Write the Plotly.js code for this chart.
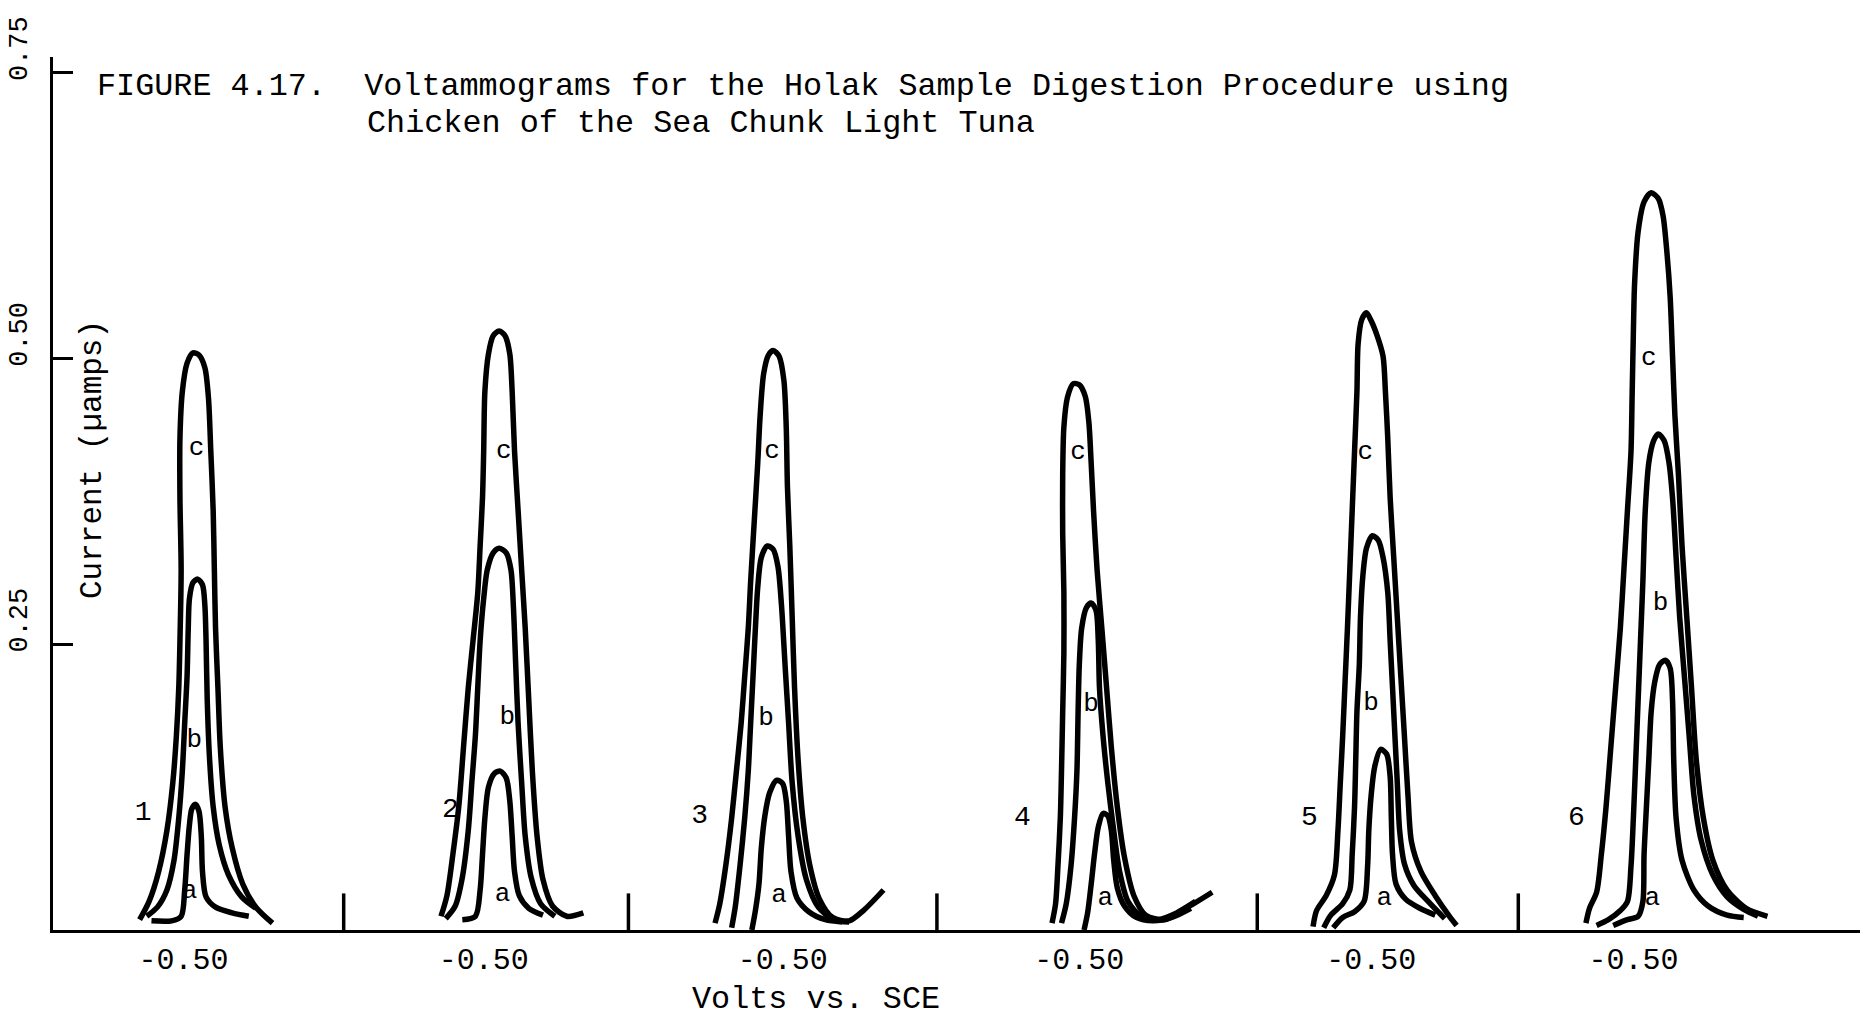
<!DOCTYPE html>
<html>
<head>
<meta charset="utf-8">
<script src="https://cdn.plot.ly/plotly-3.0.1.min.js"></script>
<style>html,body{margin:0;padding:0;background:#fff;}#chart{width:1860px;height:1017px;}</style>
</head>
<body>
<div id="chart"></div>
<script>
// ---- data ----
// horizontal position of each voltammogram (position of its -0.50 V mark)
const groupCenters = [110, 363, 615, 865, 1111, 1332];
const groupNames = ["1", "2", "3", "4", "5", "6"];
const xTickLabels = ["-0.50", "-0.50", "-0.50", "-0.50", "-0.50", "-0.50"];
const separatorPositions = [245, 485, 745, 1015, 1235];
const separatorHeight = 0.032;
const yTickValues = [0.25, 0.50, 0.75];
const yTickLabels = ["0.25", "0.50", "0.75"];

// curves: offset from the group's -0.50 V mark, current (uA)
const g1c_dx = [-37,-29,-21,-14,-9,-6,-4,-3,-2,-3,-3,-1,3,8,13,18,21,23,25,26,27,29,31,35,41,50,61,75];
const g1c_i = [0.009,0.025,0.051,0.087,0.129,0.170,0.212,0.253,0.315,0.378,0.430,0.471,0.496,0.505,0.503,0.492,0.466,0.419,0.367,0.315,0.264,0.212,0.160,0.108,0.072,0.040,0.020,0.006];
const g1b_dx = [-31,-22,-14,-8,-4,-1,1,3,4,5,8,12,16,18,19,20,22,25,30,38,49,61];
const g1b_i = [0.012,0.020,0.035,0.061,0.098,0.139,0.181,0.222,0.264,0.290,0.304,0.307,0.302,0.284,0.253,0.201,0.149,0.108,0.075,0.048,0.029,0.019];
const g1a_dx = [-27,-10,-2,1,3,5,7,10,13,15,16,19,27,41,55];
const g1a_i = [0.008,0.008,0.012,0.035,0.066,0.092,0.106,0.110,0.104,0.082,0.051,0.029,0.020,0.015,0.012];

const g2c_dx = [-36,-31,-26,-21,-17,-13,-9,-5,-3,-1,0,1,4,8,13,18,22,24,26,29,32,35,38,41,45,50,58,70,84];
const g2c_i = [0.012,0.030,0.066,0.108,0.160,0.212,0.253,0.295,0.336,0.378,0.419,0.471,0.504,0.520,0.524,0.520,0.504,0.471,0.419,0.367,0.315,0.264,0.201,0.139,0.082,0.044,0.021,0.012,0.015];
const g2b_dx = [-32,-24,-18,-13,-10,-7,-5,-3,0,3,8,13,19,23,25,27,29,32,35,40,48,60];
const g2b_i = [0.010,0.021,0.046,0.087,0.129,0.170,0.212,0.253,0.290,0.315,0.330,0.334,0.330,0.315,0.284,0.232,0.181,0.129,0.082,0.046,0.023,0.012];
const g2a_dx = [-18,-7,-3,-1,1,4,9,14,19,22,24,26,30,38,50];
const g2a_i = [0.009,0.012,0.035,0.066,0.098,0.125,0.137,0.139,0.133,0.113,0.082,0.051,0.030,0.019,0.013];

const g3c_dx = [-57,-53,-48,-43,-39,-35,-32,-29,-27,-24,-21,-19,-16,-12,-8,-3,1,3,4,6,8,10,13,17,23,31,42,56,68,85];
const g3c_i = [0.006,0.023,0.056,0.098,0.139,0.181,0.222,0.264,0.305,0.357,0.409,0.450,0.487,0.503,0.507,0.502,0.481,0.440,0.388,0.336,0.274,0.212,0.149,0.098,0.056,0.027,0.011,0.008,0.017,0.035];
const g3b_dx = [-43,-40,-36,-32,-29,-27,-25,-23,-21,-18,-13,-8,-4,-1,2,5,8,13,20,30,43,56];
const g3b_i = [0.002,0.020,0.056,0.098,0.139,0.181,0.222,0.264,0.300,0.326,0.336,0.333,0.318,0.284,0.232,0.181,0.129,0.082,0.044,0.020,0.009,0.007];
const g3a_dx = [-26,-23,-20,-18,-15,-11,-5,0,3,5,7,12,22,36,50];
const g3a_i = [0.000,0.017,0.040,0.072,0.100,0.120,0.131,0.128,0.113,0.082,0.051,0.028,0.016,0.009,0.007];

const g4c_dx = [-23,-20,-18,-16,-15,-14,-13,-13,-14,-14,-13,-10,-5,0,5,8,10,12,15,19,23,27,32,38,46,56,72,90,112];
const g4c_i = [0.006,0.023,0.056,0.098,0.139,0.191,0.243,0.295,0.347,0.398,0.440,0.466,0.478,0.477,0.467,0.445,0.409,0.367,0.315,0.264,0.212,0.160,0.108,0.064,0.030,0.013,0.009,0.019,0.033];
const g4b_dx = [-15,-11,-7,-4,-2,-1,0,2,6,10,14,16,17,20,24,29,34,41,52,66,82,98];
const g4b_i = [0.006,0.023,0.056,0.098,0.139,0.191,0.232,0.264,0.282,0.286,0.280,0.253,0.212,0.170,0.129,0.087,0.051,0.025,0.012,0.009,0.015,0.025];
const g4a_dx = [4,7,10,13,16,20,24,27,29,32,38,48,62,78,94];
const g4a_i = [0.000,0.015,0.040,0.068,0.090,0.102,0.100,0.087,0.061,0.037,0.021,0.011,0.008,0.011,0.019];

const g5c_dx = [-49,-46,-38,-31,-28,-26,-24,-22,-20,-18,-16,-14,-12,-11,-8,-4,0,5,10,12,14,16,19,22,25,28,31,34,42,54,66,72];
const g5c_i = [0.003,0.017,0.030,0.048,0.087,0.129,0.170,0.217,0.264,0.315,0.367,0.419,0.471,0.513,0.534,0.540,0.533,0.520,0.502,0.471,0.430,0.378,0.326,0.274,0.222,0.170,0.118,0.077,0.051,0.030,0.012,0.004];
const g5b_dx = [-40,-34,-24,-18,-16,-14,-13,-12,-10,-9,-7,-4,1,6,10,14,16,18,20,22,24,28,36,48,62];
const g5b_i = [0.002,0.013,0.023,0.035,0.066,0.108,0.149,0.191,0.232,0.274,0.310,0.334,0.345,0.341,0.326,0.295,0.253,0.212,0.170,0.129,0.087,0.058,0.039,0.025,0.010];
const g5a_dx = [-32,-24,-14,-6,-3,-2,0,3,8,13,16,17,18,21,29,41,54];
const g5a_i = [0.002,0.011,0.016,0.025,0.056,0.087,0.118,0.143,0.158,0.154,0.134,0.098,0.066,0.040,0.027,0.019,0.013];

const g6c_dx = [-40,-37,-31,-27,-23,-19,-15,-11,-8,-5,-2,-1,0,1,4,9,15,21,25,28,31,33,35,38,41,45,49,53,59,67,79,95,113];
const g6c_i = [0.006,0.019,0.033,0.066,0.108,0.160,0.212,0.264,0.315,0.367,0.419,0.471,0.523,0.565,0.611,0.637,0.645,0.640,0.625,0.596,0.554,0.502,0.450,0.398,0.336,0.274,0.212,0.149,0.098,0.061,0.035,0.019,0.012];
const g6b_dx = [-31,-21,-11,-5,-2,0,2,4,6,8,10,13,17,21,26,30,33,36,39,43,47,51,57,67,79,93,105];
const g6b_i = [0.004,0.009,0.017,0.025,0.056,0.098,0.149,0.201,0.253,0.305,0.367,0.409,0.428,0.434,0.428,0.409,0.378,0.326,0.274,0.222,0.170,0.118,0.079,0.048,0.029,0.018,0.012];
const g6a_dx = [-17,-5,4,8,9,11,13,15,18,22,27,31,33,34,36,41,51,63,79,93];
const g6a_i = [0.004,0.009,0.012,0.025,0.066,0.108,0.149,0.191,0.217,0.232,0.236,0.229,0.201,0.149,0.098,0.061,0.035,0.021,0.013,0.011];

// curve letter labels (offset, current) per group
const curveLetters = ["c", "b", "a"];
const letter_dx = [[11,9,5],[17,20,16],[-9,-14,-3],[-1,10,22],[-5,0,11],[13,23,16]];
const letter_i = [[0.421,0.166,0.034],[0.419,0.186,0.031],[0.419,0.185,0.030],[0.418,0.197,0.028],[0.418,0.198,0.028],[0.500,0.286,0.028]];
// group number labels
const number_dx = [-34, -28, -70, -48, -52, -48];
const number_i = [0.102, 0.105, 0.100, 0.098, 0.098, 0.098];

// ---- build traces ----
const curves = [
  [[g1c_dx,g1c_i],[g1b_dx,g1b_i],[g1a_dx,g1a_i]],
  [[g2c_dx,g2c_i],[g2b_dx,g2b_i],[g2a_dx,g2a_i]],
  [[g3c_dx,g3c_i],[g3b_dx,g3b_i],[g3a_dx,g3a_i]],
  [[g4c_dx,g4c_i],[g4b_dx,g4b_i],[g4a_dx,g4a_i]],
  [[g5c_dx,g5c_i],[g5b_dx,g5b_i],[g5a_dx,g5a_i]],
  [[g6c_dx,g6c_i],[g6b_dx,g6b_i],[g6a_dx,g6a_i]]
];
const FONT = "Liberation Mono, Courier New, monospace";
const traces = [];
curves.forEach((grp, g) => {
  grp.forEach((cv, k) => {
    traces.push({
      type: "scatter", mode: "lines",
      x: cv[0].map(d => groupCenters[g] + d), y: cv[1],
      line: {color: "#000", width: 5.5, shape: "spline", smoothing: 0.8},
      hoverinfo: "skip", name: "Run " + groupNames[g] + " " + curveLetters[k]
    });
  });
});
// separators between runs
const sepX = [], sepY = [];
separatorPositions.forEach(p => { sepX.push(p, p, null); sepY.push(0, separatorHeight, null); });
traces.push({type: "scatter", mode: "lines", x: sepX, y: sepY,
  line: {color: "#000", width: 3.5}, hoverinfo: "skip", cliponaxis: false});
// letters
const lx = [], ly = [], lt = [];
letter_dx.forEach((arr, g) => arr.forEach((d, k) => {
  lx.push(groupCenters[g] + d); ly.push(letter_i[g][k]); lt.push(curveLetters[k]);
}));
traces.push({type: "scatter", mode: "text", x: lx, y: ly, text: lt,
  textfont: {family: FONT, size: 26, color: "#000"}, hoverinfo: "skip"});
// run numbers
traces.push({type: "scatter", mode: "text",
  x: number_dx.map((d, g) => groupCenters[g] + d), y: number_i, text: groupNames,
  textfont: {family: FONT, size: 28, color: "#000"}, hoverinfo: "skip"});

const layout = {
  width: 1860, height: 1017,
  margin: {l: 53, r: 0, t: 57, b: 87},
  paper_bgcolor: "#fff", plot_bgcolor: "#fff",
  showlegend: false,
  font: {family: FONT, color: "#000"},
  title: {
    text: "FIGURE 4.17.\u00A0\u00A0Voltammograms for the Holak Sample Digestion Procedure using",
    font: {family: FONT, size: 31.8, color: "#000"},
    x: 97/1860, xanchor: "left", xref: "container",
    y: 1 - 84/1017, yanchor: "middle", yref: "container"
  },
  xaxis: {
    range: [0, 1523], showgrid: false, zeroline: false,
    showline: true, linecolor: "#000", linewidth: 3,
    tickmode: "array", tickvals: groupCenters, ticktext: xTickLabels,
    ticks: "", tickfont: {family: FONT, size: 30, color: "#000"},
    ticklabelstandoff: 0, fixedrange: true
  },
  yaxis: {
    range: [0, 0.7638], showgrid: false, zeroline: false,
    showline: true, linecolor: "#000", linewidth: 3,
    tickmode: "array", tickvals: yTickValues, ticktext: yTickLabels,
    ticks: "inside", ticklen: 20, tickwidth: 3, tickcolor: "#000",
    tickangle: -90, tickfont: {family: FONT, size: 27, color: "#000"},
    ticklabelstandoff: 12, ticklabelshift: -20, fixedrange: true
  },
  annotations: [
    {text: "Chicken of the Sea Chunk Light Tuna", xref: "paper", yref: "paper",
     x: 312/1807, y: 806/873, xanchor: "left", yanchor: "middle", showarrow: false,
     font: {family: FONT, size: 31.8, color: "#000"}},
    {text: "Volts vs. SCE", xref: "paper", yref: "paper",
     x: 763/1807, y: -70/873, xanchor: "center", yanchor: "middle", showarrow: false,
     font: {family: FONT, size: 31.8, color: "#000"}},
    {text: "Current (\u00B5amps)", xref: "paper", yref: "paper", textangle: -90,
     x: 39/1807, y: 470/873, xanchor: "center", yanchor: "middle", showarrow: false,
     font: {family: FONT, size: 31, color: "#000"}}
  ]
};
Plotly.newPlot("chart", traces, layout, {staticPlot: true, displayModeBar: false});
</script>
</body>
</html>
